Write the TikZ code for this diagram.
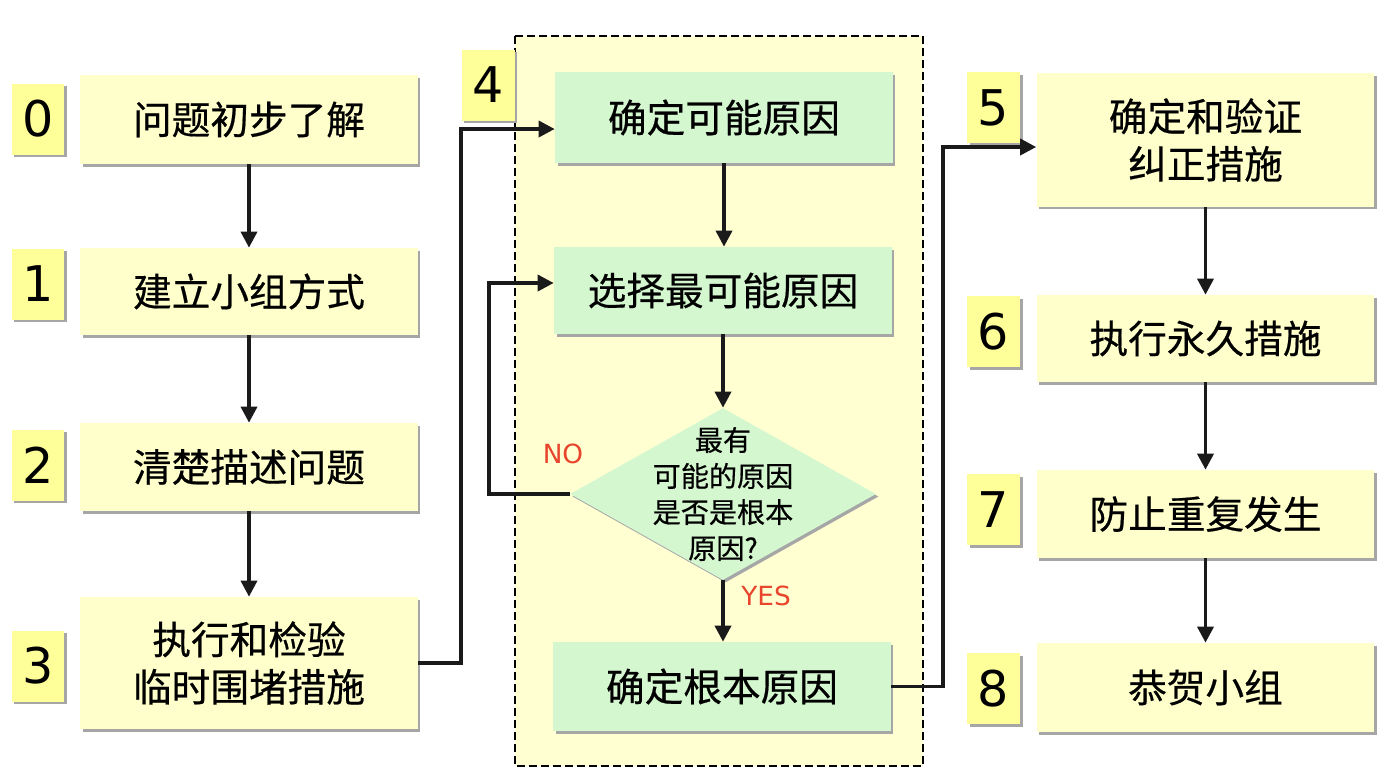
\documentclass[tikz,border=0pt]{standalone}
\usepackage{fontspec}
\setmainfont{Noto Sans CJK SC}[FakeBold=0.5]
\newfontfamily\latinfont{DejaVu Sans}
\usetikzlibrary{arrows.meta,shapes.geometric,shadows}
\definecolor{stepyellow}{HTML}{FFFFCC}
\definecolor{numyellow}{HTML}{FFFF99}
\definecolor{causegreen}{HTML}{D4F7D0}
\definecolor{framefill}{HTML}{FFFFD2}
\definecolor{answerred}{HTML}{E8452C}
\definecolor{linegray}{HTML}{1A1A1A}

\begin{document}
\begin{tikzpicture}[x=0.02cm, y=-0.02cm,
  boxshadow/.style={drop shadow={shadow xshift=0.05cm, shadow yshift=-0.05cm, fill=black!35, opacity=1}},
  stepbox/.style={fill=stepyellow, boxshadow, minimum width=6.76cm, align=center, font=\fontsize{22}{27}\selectfont},
  causebox/.style={stepbox, fill=causegreen},
  numbox/.style={fill=numyellow, boxshadow, minimum width=1.06cm, minimum height=1.42cm, font=\latinfont\fontsize{28}{30}\selectfont},
  decbox/.style={diamond, fill=causegreen, boxshadow, minimum width=6.12cm, minimum height=3.44cm, inner sep=0pt},
  conn/.style={draw=linegray, line width=2pt, -{Triangle[length=0.32cm, width=0.32cm]}},
  answer/.style={text=answerred, font=\latinfont\fontsize{15}{17}\selectfont},
  framebox/.style={draw=black, fill=framefill, dash pattern=on 0.16cm off 0.08cm, line width=1.6pt}]
   \useasboundingbox (0,0) rectangle (1398,779);
   \draw[framebox] (515,36) rectangle (923,766);

   \node[stepbox, minimum height=1.78cm] (q0) at (249,119.5) {问题初步了解};
   \node[stepbox, minimum height=1.74cm] (q1) at (249,291.5) {建立小组方式};
   \node[stepbox, minimum height=1.76cm] (q2) at (249,467) {清楚描述问题};
   \node[stepbox, minimum height=2.64cm] (q3) at (249,663) {执行和检验\\临时围堵措施};

   \node[causebox, minimum height=1.82cm] (c1) at (724,117.5) {确定可能原因};
   \node[causebox, minimum height=1.74cm] (c2) at (723,290.5) {选择最可能原因};
   \node[decbox, label={[align=center, font=\fontsize{16}{20.5}\selectfont]center:{最有\\可能的原因\\是否是根本\\原因?}}] (dec) at (723,494) {};
   \node[causebox, minimum height=1.78cm] (root) at (722,686.5) {确定根本原因};

   \node[stepbox, minimum height=2.68cm] (q5) at (1205.5,140) {确定和验证\\纠正措施};
   \node[stepbox, minimum height=1.74cm] (q6) at (1205.5,338.5) {执行永久措施};
   \node[stepbox, minimum height=1.76cm] (q7) at (1205.5,514) {防止重复发生};
   \node[stepbox, minimum height=1.78cm] (q8) at (1205.5,687.5) {恭贺小组};

   \foreach \i/\y in {0/119,1/284,2/465,3/666}
      \node[numbox] (n\i) at (38,\y) {\i};
   \node[numbox] (n4) at (488,85) {4};
   \foreach \i/\y in {5/107.5,6/331.5,7/509.5,8/688.5}
      \node[numbox] (n\i) at (993.5,\y) {\i};

   \foreach \a/\b in {q0/q1,q1/q2,q2/q3,c1/c2,c2/dec,q5/q6,q6/q7,q7/q8}
      \draw[conn] (\a.south) -- (\a.south |- \b.north);
   \draw[conn] (dec.south) -- (dec.south |- root.north);
   \node[answer] (yes) at (766,596) {YES};
   \node[answer] (no) at (563,454) {NO};

   \coordinate (j4) at (461,129);
   \draw[conn] (q3.east) -| (j4) -- (j4 -| c1.west);
   \coordinate (j5) at (489,283);
   \draw[conn] (dec.west) -| (j5) -- (j5 -| c2.west);
   \coordinate (j6) at (943,147);
   \draw[conn] (root.east) -| (j6) -- (j6 -| q5.west);
\end{tikzpicture}
\end{document}
